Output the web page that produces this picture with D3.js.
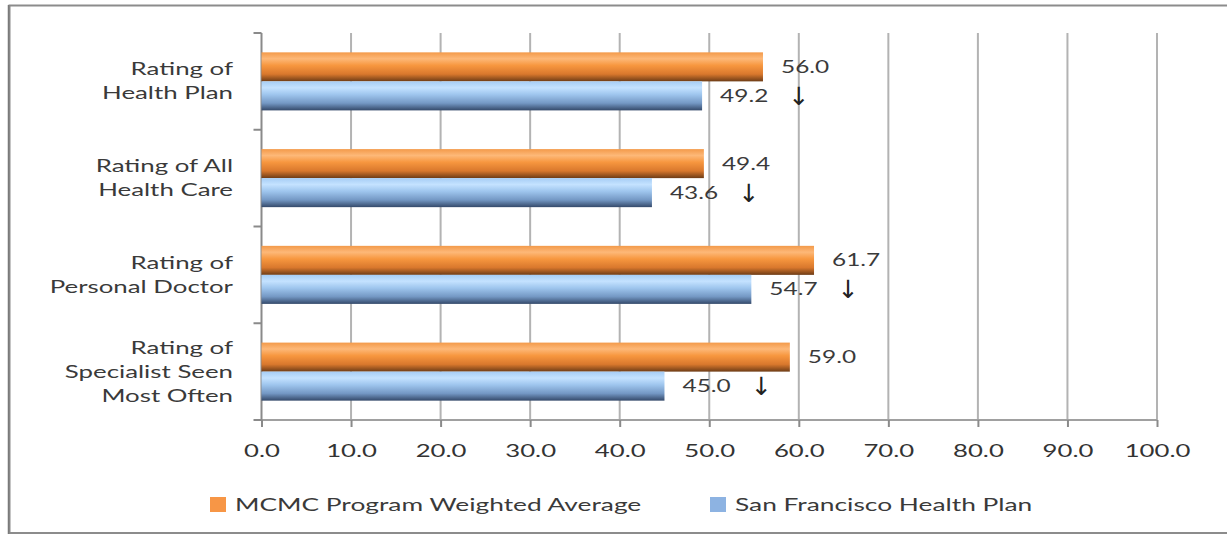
<!DOCTYPE html>
<html>
<head>
<meta charset="utf-8">
<script src="https://cdn.jsdelivr.net/npm/d3@7"></script>
<style>
  html, body { margin: 0; padding: 0; background: #fff; }
  svg { display: block; }
  text { font-family: Lato, "Open Sans", sans-serif; fill: #3a3a3a; }
</style>
</head>
<body>
<svg id="chart" width="1227" height="534"></svg>
<script>
// Categories (top to bottom), each label split into lines
const categories = [
  ["Rating of", "Health Plan"],
  ["Rating of All", "Health Care"],
  ["Rating of", "Personal Doctor"],
  ["Rating of", "Specialist Seen", "Most Often"]
];
const seriesNames = ["MCMC Program Weighted Average", "San Francisco Health Plan"];
const mcmcValues = [56.0, 49.4, 61.7, 59.0];
const sfhpValues = [49.2, 43.6, 54.7, 45.0];
// Down arrow marks a plan score significantly below the program average
const sfhpBelow = [true, true, true, true];
const xTicks = [0, 10, 20, 30, 40, 50, 60, 70, 80, 90, 100];

const svg = d3.select("#chart");
const W = 1227, H = 534;
const plot = { left: 261.5, right: 1157, top: 33, bottom: 420 };
// wide lettering, per text role
const SX_CAT = 1.52, SX_TICK = 1.56, SX_VAL = 1.48, SX_LEG = 1.55;

// outer frame
svg.append("path")
  .attr("d", `M${W},5.5 H9.5 V533 H${W}`)
  .attr("fill", "none").attr("stroke", "#8c8c8c").attr("stroke-width", 2);
svg.append("line").attr("x1", 8.5).attr("x2", 8.5).attr("y1", 5).attr("y2", 534)
  .attr("stroke", "#7a7a7a").attr("stroke-width", 1.5);

const x = d3.scaleLinear().domain([0, 100]).range([plot.left, plot.right]);
const catIdx = categories.map((d, i) => i);
const y = d3.scaleBand().domain(catIdx).range([plot.top, plot.bottom])
  .paddingInner(0.4).paddingOuter(0.2);
const ySub = d3.scaleBand().domain([0, 1]).range([0, y.bandwidth()]);

const defs = svg.append("defs");
function grad(id, stops) {
  const g = defs.append("linearGradient").attr("id", id)
    .attr("x1", 0).attr("y1", 0).attr("x2", 0).attr("y2", 1);
  stops.forEach(([o, c]) => g.append("stop").attr("offset", o).attr("stop-color", c));
}
grad("gOrange", [[0, "#f39a4a"], [0.22, "#fdb878"], [0.45, "#f7973f"], [0.75, "#d9782d"], [1, "#6e3c16"]]);
grad("gBlue", [[0, "#a6cdf5"], [0.22, "#c4e2ff"], [0.45, "#9fc6ee"], [0.75, "#7498c4"], [1, "#34496a"]]);

// vertical gridlines
svg.append("g").selectAll("line").data(xTicks.slice(1)).join("line")
  .attr("x1", d => x(d)).attr("x2", d => x(d))
  .attr("y1", plot.top).attr("y2", plot.bottom)
  .attr("stroke", "#b3b3b3").attr("stroke-width", 2);

// x axis
const xAxis = svg.append("g").attr("transform", `translate(0,${plot.bottom})`)
  .call(d3.axisBottom(x).tickValues(xTicks).tickSize(7).tickFormat(d3.format(".1f")));
xAxis.select(".domain").attr("stroke", "#a0a0a0").attr("stroke-width", 2)
  .attr("d", `M${plot.left},0H${plot.right}`);
xAxis.selectAll(".tick line").attr("stroke", "#8a8a8a").attr("stroke-width", 2);
xAxis.selectAll(".tick text").remove();
xAxis.selectAll(".tick").append("text")
  .attr("transform", `translate(0,37) scale(${SX_TICK},1)`)
  .attr("text-anchor", "middle").attr("font-size", 16.5)
  .style("fill", "#333").text(d => d3.format(".1f")(d));

// y axis line with category boundary ticks
const yAxis = svg.append("g");
yAxis.append("line").attr("x1", plot.left).attr("x2", plot.left)
  .attr("y1", plot.top).attr("y2", plot.bottom)
  .attr("stroke", "#8a8a8a").attr("stroke-width", 2);
const bounds = catIdx.map(i => plot.top + i * y.step());
bounds.push(plot.bottom);
yAxis.selectAll("line.tk").data(bounds).join("line").attr("class", "tk")
  .attr("x1", plot.left - 8).attr("x2", plot.left)
  .attr("y1", d => d).attr("y2", d => d)
  .attr("stroke", "#8a8a8a").attr("stroke-width", 2);

// category labels
const lineH = 24;
const catG = svg.append("g").selectAll("g").data(categories).join("g")
  .attr("transform", (d, i) => `translate(233,${y(i) + y.bandwidth() / 2 - (d.length - 1) * lineH / 2 + 6})`);
catG.selectAll("text").data(d => d).join("text")
  .attr("transform", (d, j) => `translate(0,${j * lineH}) scale(${SX_CAT},1)`)
  .attr("text-anchor", "end").attr("font-size", 17).text(d => d);

// bars
const rows = catIdx.map(i => [
  { s: 0, v: mcmcValues[i], i },
  { s: 1, v: sfhpValues[i], i, below: sfhpBelow[i] }
]);
const barG = svg.append("g").selectAll("g").data(rows).join("g")
  .attr("transform", (d, i) => `translate(0,${y(i)})`);
barG.selectAll("rect").data(d => d).join("rect")
  .attr("x", x(0)).attr("y", d => ySub(d.s))
  .attr("width", d => x(d.v) - x(0)).attr("height", ySub.bandwidth())
  .attr("fill", d => d.s === 0 ? "url(#gOrange)" : "url(#gBlue)");

// value labels
barG.selectAll("text.val").data(d => d).join("text").attr("class", "val")
  .attr("transform", d => `translate(${x(d.v) + 18},${ySub(d.s) + ySub.bandwidth() / 2 + 6}) scale(${SX_VAL},1)`)
  .attr("font-size", 16.5).text(d => d3.format(".1f")(d.v));
barG.selectAll("text.arr").data(d => d.filter(e => e.below)).join("text").attr("class", "arr")
  .attr("x", d => x(d.v) + 97).attr("y", d => ySub(d.s) + ySub.bandwidth() / 2 + 9)
  .attr("text-anchor", "middle").attr("font-size", 25)
  .style("font-family", "DejaVu Sans").style("fill", "#222").text("↓");

// legend
const legend = svg.append("g").attr("transform", "translate(0,505)");
const legX = [210, 710];
const legColors = ["#f79646", "#8db3e2"];
const li = legend.selectAll("g").data(seriesNames).join("g")
  .attr("transform", (d, i) => `translate(${legX[i]},0)`);
li.append("rect").attr("x", 0).attr("y", -8).attr("width", 16).attr("height", 15)
  .attr("fill", (d, i) => legColors[i]);
li.append("text").attr("transform", `translate(25,6) scale(${SX_LEG},1)`)
  .attr("font-size", 17).text(d => d);
</script>
</body>
</html>
